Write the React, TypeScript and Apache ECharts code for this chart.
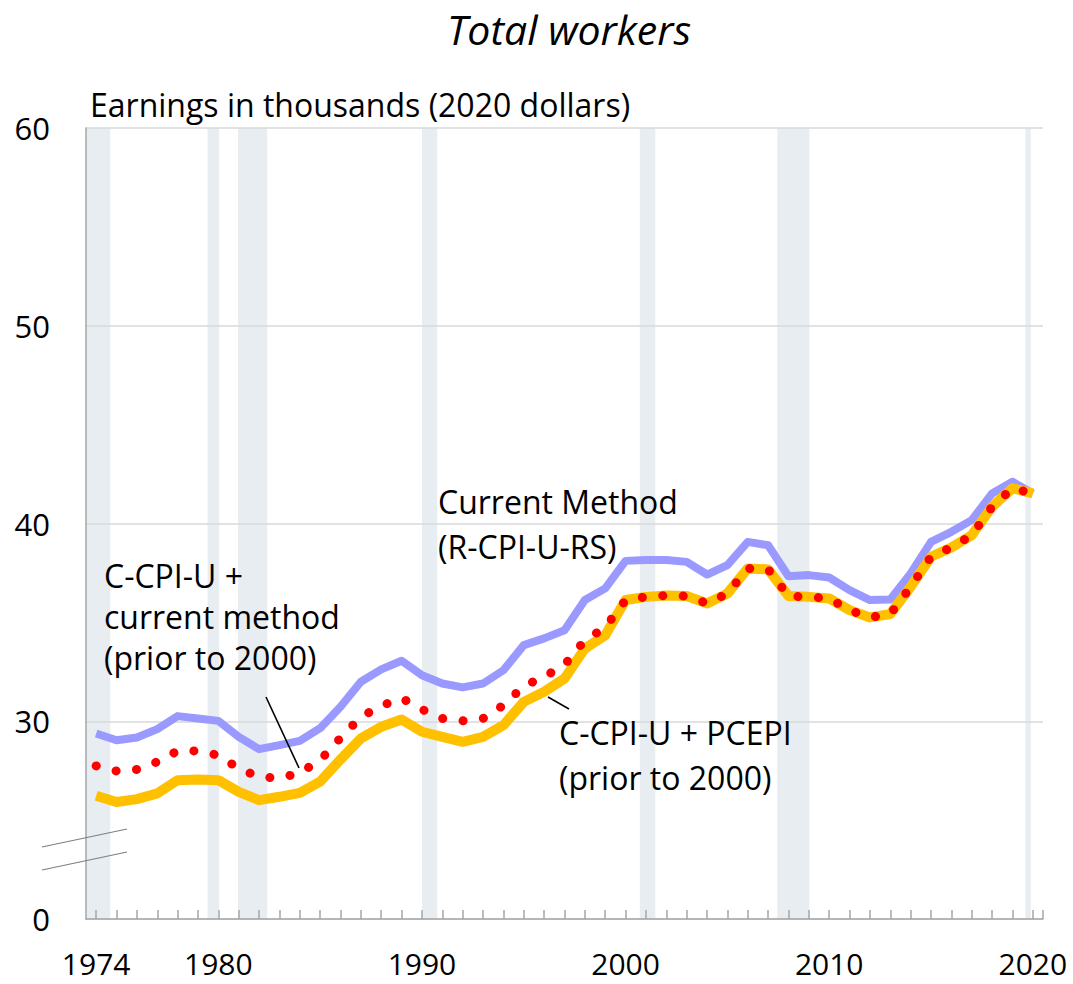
import React, { useEffect, useRef } from "react";
import * as echarts from "echarts";

const years = [
  1974, 1975, 1976, 1977, 1978, 1979, 1980, 1981, 1982, 1983, 1984, 1985, 1986, 1987, 1988, 1989,
  1990, 1991, 1992, 1993, 1994, 1995, 1996, 1997, 1998, 1999, 2000, 2001, 2002, 2003, 2004, 2005,
  2006, 2007, 2008, 2009, 2010, 2011, 2012, 2013, 2014, 2015, 2016, 2017, 2018, 2019, 2020,
];

// Current Method (R-CPI-U-RS)
const currentMethod = [
  29.38, 29.04, 29.18, 29.6, 30.26, 30.14, 30.02, 29.21, 28.59, 28.79, 29.01, 29.65, 30.73, 32.0,
  32.62, 33.06, 32.33, 31.91, 31.71, 31.91, 32.58, 33.85, 34.19, 34.6, 36.13, 36.72, 38.11, 38.15,
  38.15, 38.06, 37.42, 37.9, 39.07, 38.9, 37.33, 37.39, 37.27, 36.63, 36.13, 36.16, 37.47, 39.07,
  39.58, 40.17, 41.52, 42.11, 41.52,
];

// C-CPI-U + PCEPI (prior to 2000)
const ccpiPcepi = [
  26.23, 25.92, 26.06, 26.35, 27.02, 27.06, 27.02, 26.43, 26.01, 26.18, 26.38, 26.95, 28.07, 29.13,
  29.72, 30.09, 29.47, 29.21, 28.96, 29.21, 29.8, 30.98, 31.49, 32.16, 33.68, 34.35, 36.13, 36.29,
  36.36, 36.33, 35.96, 36.46, 37.73, 37.68, 36.33, 36.29, 36.21, 35.62, 35.25, 35.42, 36.8, 38.32,
  38.79, 39.41, 40.85, 41.78, 41.52,
];

// C-CPI-U + current method (prior to 2000)
const ccpiCurrent = [
  27.74, 27.48, 27.56, 27.95, 28.5, 28.5, 28.28, 27.61, 27.19, 27.12, 27.39, 28.03, 29.16, 30.22,
  30.78, 31.17, 30.6, 30.14, 30.02, 30.14, 30.81, 31.78, 32.25, 32.85, 34.1, 34.74, 36.13, 36.29,
  36.36, 36.33, 35.96, 36.46, 37.73, 37.68, 36.33, 36.29, 36.21, 35.62, 35.25, 35.42, 36.8, 38.32,
  38.79, 39.41, 40.85, 41.78, 41.52,
];

// Recession bands (start, end) on the year axis
const recessions = [
  [1973.5, 1974.69],
  [1979.47, 1980.04],
  [1980.97, 1982.4],
  [1990.0, 1990.75],
  [2000.7, 2001.46],
  [2007.45, 2009.03],
  [2019.64, 2019.9],
];

const xLabelYears = [1974, 1980, 1990, 2000, 2010, 2020];
const xTickYears = [...years, 2020.5];

const FONT = "'Open Sans'";

export default function App() {
  const ref = useRef<HTMLDivElement>(null);

  useEffect(() => {
    const chart = echarts.init(ref.current!, null, { renderer: "svg" });
    const pair = (arr: number[]) => years.map((y, i) => [y, arr[i]]);

    chart.setOption({
      animation: false,
      backgroundColor: "#ffffff",
      grid: { left: 86, top: 128, width: 957, height: 791 },
      xAxis: {
        type: "value",
        min: 1973.5,
        max: 2020.5,
        z: 2,
        axisLine: { show: true, lineStyle: { color: "#a6a6a6", width: 1.5 } },
        axisTick: {
          show: true,
          inside: true,
          length: 9,
          customValues: xTickYears,
          lineStyle: { color: "#a6a6a6", width: 1.5 },
        },
        axisLabel: {
          customValues: xLabelYears,
          formatter: (v: number) => String(v),
          fontFamily: "Open Sans",
          fontSize: 30,
          lineHeight: 26,
          color: "#000",
          margin: 31,
        },
        splitLine: { show: false },
      },
      yAxis: {
        type: "value",
        min: 20,
        max: 60,
        interval: 10,
        z: 2,
        axisLine: { show: true, lineStyle: { color: "#a6a6a6", width: 1.5 } },
        axisTick: { show: false },
        axisLabel: {
          formatter: (v: number) => (v === 20 ? "0" : String(v)),
          fontFamily: "Open Sans",
          fontSize: 31,
          color: "#000",
          margin: 36,
        },
        splitLine: { show: true, lineStyle: { color: "#d9d9d9", width: 1.5 } },
      },
      series: [
        {
          type: "custom",
          data: recessions,
          z: 1,
          silent: true,
          clip: true,
          encode: { x: [0, 1] },
          renderItem: (params: any, api: any) => {
            const p0 = api.coord([api.value(0), 60]);
            const p1 = api.coord([api.value(1), 20]);
            const cs = params.coordSys;
            const x0 = Math.max(p0[0], cs.x);
            return {
              type: "rect",
              shape: { x: x0, y: p0[1], width: p1[0] - x0, height: p1[1] - p0[1] },
              style: { fill: "#e8edf2" },
            };
          },
        },
        {
          name: "Current Method (R-CPI-U-RS)",
          type: "line",
          z: 3,
          data: pair(currentMethod),
          symbol: "none",
          lineStyle: { color: "#9999ff", width: 8, join: "round" },
        },
        {
          name: "C-CPI-U + PCEPI (prior to 2000)",
          type: "line",
          z: 4,
          data: pair(ccpiPcepi),
          symbol: "none",
          lineStyle: { color: "#ffc000", width: 10, join: "round" },
        },
        {
          name: "C-CPI-U + current method (prior to 2000)",
          type: "line",
          z: 5,
          data: pair(ccpiCurrent),
          symbol: "none",
          lineStyle: { color: "#ff0000", width: 9, type: [0.1, 20.4], cap: "round" },
        },
      ],
      graphic: [
        {
          type: "text",
          x: 569,
          y: 29,
          style: {
            text: "Total workers",
            font: `italic 41px ${FONT}`,
            fill: "#000",
            textAlign: "center",
            textVerticalAlign: "middle",
          },
        },
        {
          type: "text",
          x: 90,
          y: 104,
          style: {
            text: "Earnings in thousands (2020 dollars)",
            font: `32px ${FONT}`,
            fill: "#000",
            textAlign: "left",
            textVerticalAlign: "middle",
          },
        },
        ...[
          ["Current Method", 438, 501],
          ["(R-CPI-U-RS)", 438, 546],
          ["C-CPI-U +", 104, 575],
          ["current method", 104, 616],
          ["(prior to 2000)", 104, 657],
          ["C-CPI-U + PCEPI", 559, 732],
          ["(prior to 2000)", 559, 777],
        ].map(([t, x, y]) => ({
          type: "text",
          x,
          y,
          z: 10,
          style: {
            text: t,
            font: `32px ${FONT}`,
            fill: "#000",
            textAlign: "left",
            textVerticalAlign: "middle",
          },
        })),
        {
          type: "line",
          z: 10,
          shape: { x1: 266, y1: 697, x2: 299, y2: 768 },
          style: { stroke: "#000", lineWidth: 1.6 },
        },
        {
          type: "line",
          z: 10,
          shape: { x1: 548, y1: 697, x2: 569, y2: 709 },
          style: { stroke: "#000", lineWidth: 1.6 },
        },
        {
          type: "line",
          z: 10,
          shape: { x1: 42, y1: 847, x2: 127, y2: 829 },
          style: { stroke: "#7f7f7f", lineWidth: 1.2 },
        },
        {
          type: "line",
          z: 10,
          shape: { x1: 42, y1: 870, x2: 127, y2: 852 },
          style: { stroke: "#7f7f7f", lineWidth: 1.2 },
        },
      ],
    });

    return () => chart.dispose();
  }, []);

  return (
    <div
      ref={ref}
      style={{ position: "absolute", left: 0, top: 0, width: 1073, height: 984 }}
    />
  );
}
